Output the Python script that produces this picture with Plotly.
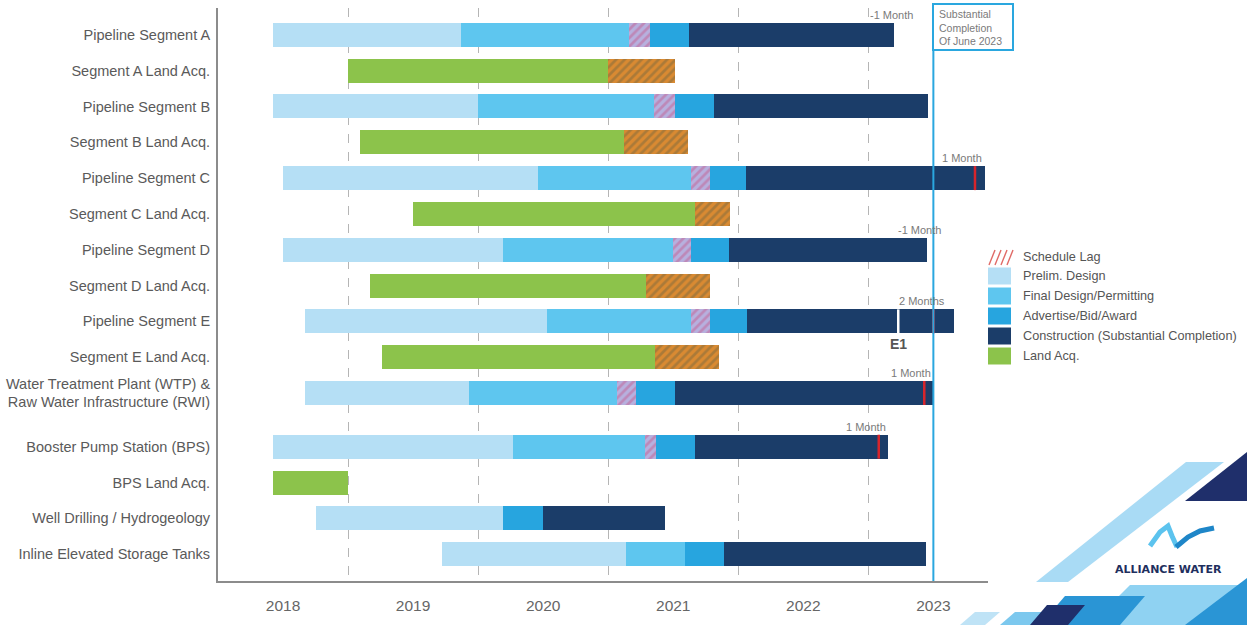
import plotly.graph_objects as go

# ---------------- data ----------------
categories = [
    "Pipeline Segment A", "Segment A Land Acq.", "Pipeline Segment B", "Segment B Land Acq.",
    "Pipeline Segment C", "Segment C Land Acq.", "Pipeline Segment D", "Segment D Land Acq.",
    "Pipeline Segment E", "Segment E Land Acq.",
    "Water Treatment Plant (WTP) &<br>Raw Water Infrastructure (RWI)",
    "Booster Pump Station (BPS)", "BPS Land Acq.", "Well Drilling / Hydrogeology",
    "Inline Elevated Storage Tanks",
]
row_pos = [0, 1, 2, 3, 4, 5, 6, 7, 8, 9, 10, 11.5, 12.5, 13.5, 14.5]

prelim_start = [2018.42, None, 2018.42, None, 2018.50, None, 2018.50, None, 2018.67, None, 2018.67, 2018.42, None, 2018.75, 2019.72]
prelim_end   = [2019.87, None, 2020.00, None, 2020.46, None, 2020.19, None, 2020.53, None, 2019.93, 2020.27, None, 2020.19, 2021.14]
final_start  = [2019.87, None, 2020.00, None, 2020.46, None, 2020.19, None, 2020.53, None, 2019.93, 2020.27, None, None, 2021.14]
final_end    = [2021.16, None, 2021.35, None, 2021.64, None, 2021.50, None, 2021.64, None, 2021.07, 2021.28, None, None, 2021.59]
lag_start    = [2021.16, None, 2021.35, None, 2021.64, None, 2021.50, None, 2021.64, None, 2021.07, 2021.28, None, None, None]
lag_end      = [2021.32, None, 2021.51, None, 2021.78, None, 2021.64, None, 2021.78, None, 2021.21, 2021.37, None, None, None]
adv_start    = [2021.32, None, 2021.51, None, 2021.78, None, 2021.64, None, 2021.78, None, 2021.21, 2021.37, None, 2020.19, 2021.59]
adv_end      = [2021.62, None, 2021.81, None, 2022.06, None, 2021.93, None, 2022.07, None, 2021.51, 2021.67, None, 2020.50, 2021.89]
constr_start = [2021.62, None, 2021.81, None, 2022.06, None, 2021.93, None, 2022.07, None, 2021.51, 2021.67, None, 2020.50, 2021.89]
constr_end   = [2023.20, None, 2023.46, None, 2023.90, None, 2023.45, None, 2023.66, None, 2023.50, 2023.15, None, 2021.44, 2023.44]
land_start   = [None, 2019.00, None, 2019.09, None, 2019.50, None, 2019.17, None, 2019.26, None, None, 2018.42, None, None]
land_end     = [None, 2021.00, None, 2021.12, None, 2021.67, None, 2021.29, None, 2021.36, None, None, 2019.00, None, None]
landlag_start = [None, 2021.00, None, 2021.12, None, 2021.67, None, 2021.29, None, 2021.36, None, None, None, None, None]
landlag_end   = [None, 2021.51, None, 2021.61, None, 2021.94, None, 2021.78, None, 2021.85, None, None, None, None, None]

delay_rows   = [0, 4, 6, 8, 10, 11.5]
delay_labels = ["-1 Month", "1 Month", "-1 Month", "2 Months", "1 Month", "1 Month"]
delay_label_x = [2023.18, 2023.72, 2023.39, 2023.41, 2023.33, 2022.98]
delay_line_x = [None, 2023.82, None, 2023.50, 2023.43, 2023.08]

e1_row, e1_x, e1_label = 8, 2023.23, "E1"
completion_x = 2023.5
completion_text = "Substantial<br>Completion<br>Of June 2023"

year_labels = ["2018", "2019", "2020", "2021", "2022", "2023"]
year_label_pos = [2018.5, 2019.5, 2020.5, 2021.5, 2022.5, 2023.5]

legend_labels = ["Schedule Lag", "Prelim. Design", "Final Design/Permitting", "Advertise/Bid/Award",
                 "Construction (Substantial Completion)", "Land Acq."]

# ---------------- style ----------------
C_PRELIM = "#b5dff5"
C_FINAL = "#5ec6ef"
C_ADV = "#27a5df"
C_CONSTR = "#1b3d69"
C_LAND = "#8cc34b"
FONT = "Liberation Sans, Arial, sans-serif"
BAR_W = 0.67

W, H = 1247, 625
L, R, T, B = 218, 259, 8, 44
PW, PH = W - L - R, H - T - B


def px(x):
    return (x - L) / PW


def py(y):
    return (H - B - y) / PH


fig = go.Figure()


def add_phase(starts, ends, color, pattern=None):
    ys, bases, lens = [], [], []
    for r, s, e in zip(row_pos, starts, ends):
        if s is None or e is None:
            continue
        ys.append(r)
        bases.append(s)
        lens.append(e - s)
    marker = dict(color=color, line=dict(width=0))
    if pattern:
        marker["pattern"] = pattern
    fig.add_trace(go.Bar(y=ys, x=lens, base=bases, orientation="h", width=BAR_W,
                         marker=marker, showlegend=False, hoverinfo="skip"))


add_phase(prelim_start, prelim_end, C_PRELIM)
add_phase(final_start, final_end, C_FINAL)
add_phase(lag_start, lag_end, "#b7a9d9",
          dict(shape="/", bgcolor="#b7b0de", fgcolor="#c45f92", size=6, solidity=0.45))
add_phase(adv_start, adv_end, C_ADV)
add_phase(constr_start, constr_end, C_CONSTR)
add_phase(land_start, land_end, C_LAND)
add_phase(landlag_start, landlag_end, "#d08a35",
          dict(shape="/", bgcolor="#d98a32", fgcolor="#7d6a3e", size=6, solidity=0.45))

shapes = []
annotations = []

# delay markers
for r, lab, lx, rx in zip(delay_rows, delay_labels, delay_label_x, delay_line_x):
    if rx is not None:
        shapes.append(dict(type="line", xref="x", yref="y", x0=rx, x1=rx,
                           y0=r - BAR_W / 2, y1=r + BAR_W / 2,
                           line=dict(color="#d6252c", width=2.5)))
    annotations.append(dict(x=lx, y=r, xref="x", yref="y", text=lab, showarrow=False,
                            xanchor="center", yanchor="bottom", yshift=12,
                            font=dict(family=FONT, size=11, color="#7a7a7a")))

# E1 marker
shapes.append(dict(type="line", xref="x", yref="y", x0=e1_x, x1=e1_x,
                   y0=e1_row - BAR_W / 2, y1=e1_row + BAR_W / 2,
                   line=dict(color="white", width=2.5)))
annotations.append(dict(x=e1_x, y=e1_row, xref="x", yref="y", text="<b>" + e1_label + "</b>",
                        showarrow=False, xanchor="center", yanchor="top", yshift=-13,
                        font=dict(family=FONT, size=14, color="#555555")))

# completion line and box
shapes.append(dict(type="line", xref="x", yref="paper", x0=completion_x, x1=completion_x,
                   y0=0, y1=py(50), line=dict(color="#2aa7df", width=2)))
shapes.append(dict(type="rect", xref="paper", yref="paper", x0=px(933), x1=px(1013),
                   y0=py(50), y1=py(4), line=dict(color="#2aa7df", width=2), fillcolor="white"))
annotations.append(dict(x=px(937), y=py(6), xref="paper", yref="paper", text=completion_text,
                        showarrow=False, xanchor="left", yanchor="top", align="left",
                        font=dict(family=FONT, size=10.5, color="#7a7a7a")))

# custom legend
for i in range(4):
    x0 = 989 + i * 6
    shapes.append(dict(type="line", xref="paper", yref="paper",
                       x0=px(x0), y0=py(265), x1=px(x0 + 6), y1=py(250),
                       line=dict(color="#e06a66", width=1.4)))
leg_colors = [C_PRELIM, C_FINAL, C_ADV, C_CONSTR, C_LAND]
leg_y = [257, 276, 296, 316, 336, 356]
for c, yc in zip(leg_colors, leg_y[1:]):
    shapes.append(dict(type="rect", xref="paper", yref="paper", x0=px(988), x1=px(1011),
                       y0=py(yc + 8.5), y1=py(yc - 8.5), fillcolor=c, line=dict(width=0)))
for lab, yc in zip(legend_labels, leg_y):
    annotations.append(dict(x=px(1021), y=py(yc), xref="paper", yref="paper", text=lab,
                            showarrow=False, xanchor="left", yanchor="middle",
                            font=dict(family=FONT, size=12.7, color="#555555")))


# logo decoration
def poly(pts, color):
    d = "M " + " L ".join(f"{px(x):.5f},{py(y):.5f}" for x, y in pts) + " Z"
    shapes.append(dict(type="path", xref="paper", yref="paper", path=d,
                       fillcolor=color, line=dict(width=0), layer="above"))


poly([(1036, 582), (1068, 582), (1224, 462), (1186, 462)], "#a9dbf5")
poly([(1185, 501), (1247, 501), (1247, 452)], "#1f2f6b")
poly([(960, 625), (985, 625), (1000, 612), (975, 612)], "#bfe3f6")
poly([(1000, 625), (1040, 625), (1055, 612), (1015, 612)], "#7cc8ee")
poly([(1090, 625), (1247, 625), (1247, 585), (1130, 585)], "#8fd2f2")
poly([(1040, 625), (1120, 625), (1145, 596), (1065, 596)], "#2a95d5")
poly([(1030, 625), (1068, 625), (1085, 605), (1047, 605)], "#1f2f6b")
poly([(1185, 625), (1247, 625), (1247, 578)], "#2a95d5")


def stroke(pts, color, width):
    d = "M " + " L ".join(f"{px(x):.5f},{py(y):.5f}" for x, y in pts)
    shapes.append(dict(type="path", xref="paper", yref="paper", path=d,
                       line=dict(color=color, width=width), layer="above"))


stroke([(1150, 546), (1160, 532), (1168, 526), (1172, 536), (1177, 547)], "#5cc3ee", 5)
stroke([(1176, 547), (1188, 537), (1200, 531), (1214, 528)], "#1e86c8", 5)
annotations.append(dict(x=px(1168), y=py(569), xref="paper", yref="paper",
                        text="<b>ALLIANCE WATER</b>", showarrow=False,
                        xanchor="center", yanchor="middle",
                        font=dict(family="DejaVu Sans, sans-serif", size=11, color="#1f2f5e")))

fig.update_layout(
    width=W, height=H,
    margin=dict(l=L, r=R, t=T, b=B, pad=0, autoexpand=False),
    paper_bgcolor="white", plot_bgcolor="white",
    barmode="overlay", bargap=0,
    shapes=shapes, annotations=annotations,
    font=dict(family=FONT, color="#555555"),
    xaxis=dict(range=[2018, 2023.92], tickvals=year_label_pos, ticktext=year_labels,
               automargin=False,
               showgrid=False, zeroline=False, ticks="", showline=True,
               linecolor="#8c8c8c", linewidth=2, ticklabelstandoff=9,
               tickfont=dict(family=FONT, size=15.5, color="#666666"),
               minor=dict(tick0=2019, dtick=1, showgrid=True, griddash="dash",
                          gridcolor="#b5b5b5", gridwidth=1, ticks="")),
    yaxis=dict(range=[15.25, -0.75], tickvals=row_pos, ticktext=categories,
               automargin=False,
               showgrid=False, zeroline=False, ticks="", showline=True,
               linecolor="#8c8c8c", linewidth=2, ticklabelstandoff=3,
               tickfont=dict(family=FONT, size=14.5, color="#5a5a5a")),
)

fig.write_html("out.html", config={"displayModeBar": False},
               post_script="document.body.style.margin='0';document.body.style.overflow='hidden';")
